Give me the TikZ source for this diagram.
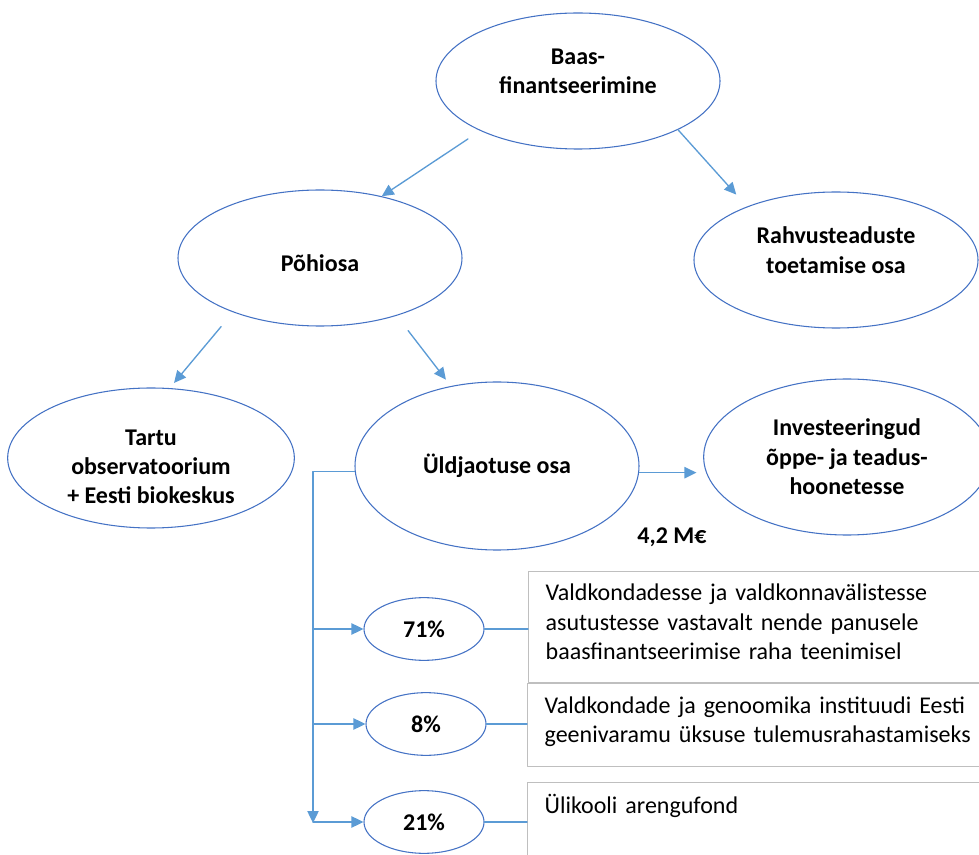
\documentclass[tikz,border=0pt]{standalone}
\usepackage{fontspec}
\setmainfont{Carlito}
\usetikzlibrary{arrows.meta,positioning,shapes.geometric}
\definecolor{bfline}{HTML}{4472C4}
\definecolor{bfarrow}{HTML}{5B9BD5}
\definecolor{bfbox}{HTML}{BFBFBF}

\begin{document}
\begin{tikzpicture}[x=.75pt,y=-.75pt,>={Triangle[length=9pt,width=8.5pt]},
  line cap=round,line join=round,
  font=\fontsize{18}{22}\selectfont,
  ell/.style={ellipse,draw=bfline,line width=.8pt,align=center,inner sep=0pt,
    font=\fontsize{18}{22}\selectfont\bfseries},
  big/.style={ell,minimum width=213pt,minimum height=102pt},
  pct/.style={ell,minimum width=90pt,minimum height=47pt},
  arr/.style={->,draw=bfarrow,line width=1pt},
  link/.style={draw=bfarrow,line width=1pt},
  box/.style={draw=bfbox,line width=1pt,anchor=north west,align=left,
    text width=327pt,inner xsep=12.75pt,inner ysep=0pt}]
\useasboundingbox (0,0) rectangle (979,855);
\clip (0,0) rectangle (979,855);

% ellipsid (tühi rida nihutab teksti üles/alla nagu originaalis)
\node[big] (baas) at (578,81) {Baas-\\finantseerimine\\[-7pt]\mbox{}};
\node[big] (pohi) at (320,258) {\mbox{}\\[-2pt]Põhiosa};
\node[big] (rahv) at (836,260) {Rahvusteaduste\\toetamise osa\\[-7pt]\mbox{}};
\node[big,minimum width=215pt,minimum height=105pt] (tartu) at (151,458)
  {\mbox{}\\[3pt]Tartu\\observatoorium\\+ Eesti biokeskus};
\node[big,minimum height=126pt] (uld) at (497,466) {Üldjaotuse osa};
\node[big,minimum width=215pt,minimum height=117pt] (invest) at (847,457)
  {Investeeringud\\õppe- ja teadus-\\hoonetesse};
\node[font=\fontsize{18}{22}\selectfont\bfseries] (summa) at (672,537) {4,2 M€};

% protsendid
\node[pct] (p71) at (424,629) {71\%};
\node[pct] (p8) at (426,724) {8\%};
\node[pct] (p21) at (424,822) {21\%};

% kastid
\node[box,minimum height=83pt] (k71) at (528,571)
  {Valdkondadesse ja valdkonnavälistesse\\asutustesse vastavalt nende panusele\\baasfinantseerimise raha teenimisel\\[-14.5pt]\mbox{}};
\node[box,minimum height=62pt] (k8) at (527,683)
  {Valdkondade ja genoomika instituudi Eesti\\geenivaramu üksuse tulemusrahastamiseks\\[-14pt]\mbox{}};
\node[box,minimum height=83pt] (k21) at (527,782)
  {Ülikooli arengufond\\\mbox{}\\[7.5pt]\mbox{}};

% nooled
\draw[arr,shorten <=11pt] (baas.207) -- (pohi.45);
\draw[arr,shorten >=12pt] (baas.-26) -- (rahv.149);
\draw[arr,shorten <=14pt,shorten >=5pt] (pohi.212) -- (tartu.75);
\draw[arr,shorten <=14pt,shorten >=6pt] (pohi.-37) -- (uld.120);
\draw[arr,shorten >=5pt] ([yshift=-5pt]uld.east) -- ([yshift=-5pt]uld.east -| invest.west);

% jaotus
\coordinate (tyvi) at (313,823);
\draw[arr] ([yshift=-4pt]uld.west) -| (tyvi);
\foreach \p in {p71,p8,p21}
  \draw[arr] (\p.west -| tyvi) -- (\p.west);
\draw[link] (p71.east) -- (p71.east -| k71.west);
\draw[link] (p8.east) -- (p8.east -| k8.west);
\draw[link] (p21.east) -- (p21.east -| k21.west);
\end{tikzpicture}
\end{document}
